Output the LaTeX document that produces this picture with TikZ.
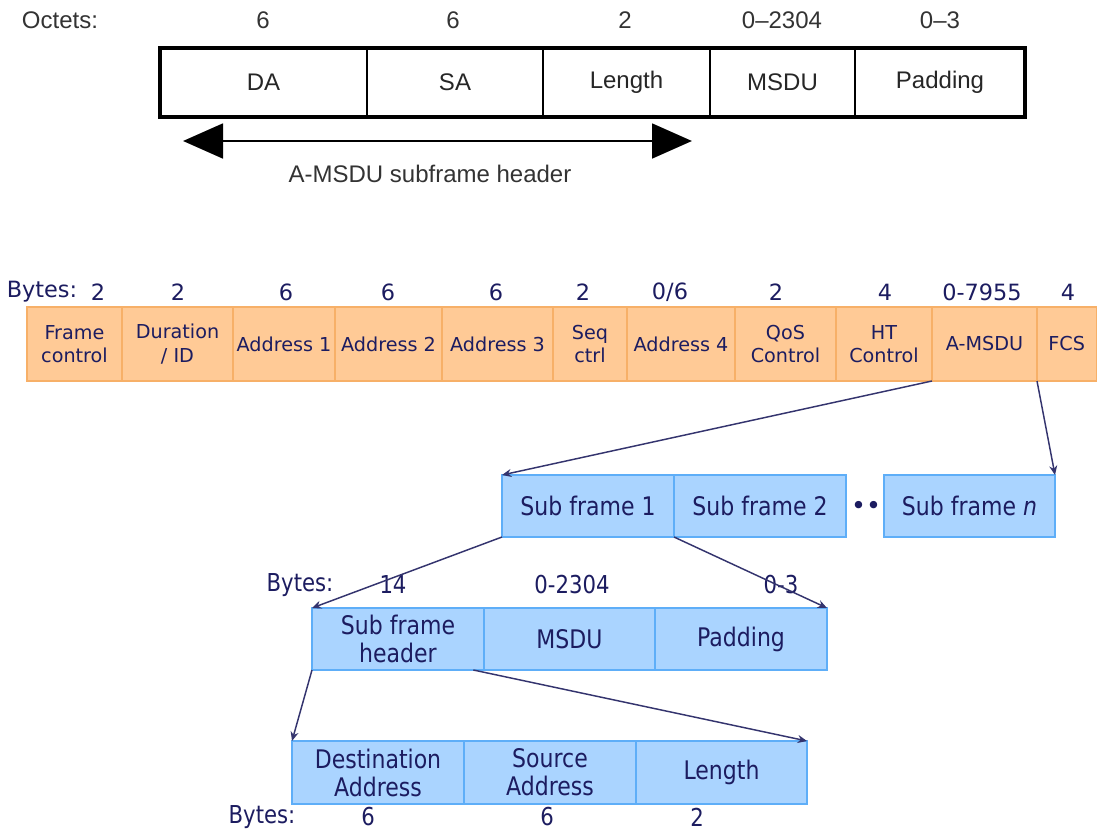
\documentclass[tikz,border=0pt]{standalone}
\usepackage{fontspec}
\usetikzlibrary{arrows.meta}
\newfontfamily\arialn{Liberation Sans}
\newfontfamily\verd{DejaVu Sans}
\newfontfamily\verdc[FakeStretch=0.86]{DejaVu Sans}
\definecolor{orfill}{HTML}{FFCA96}
\definecolor{ordraw}{HTML}{F7B068}
\definecolor{blfill}{HTML}{AAD4FF}
\definecolor{bldraw}{HTML}{5EAEF8}
\definecolor{navy}{HTML}{1C1C60}
\definecolor{lnk}{HTML}{34346E}
\newcommand\mycell[7]{\node[#6, minimum width={(#3-#2)*0.75pt}, minimum height={(#5-#4)*0.75pt}] (#1) at ({(#2+#3)/2},{(#4+#5)/2}) {#7};}
\tikzset{
  topcell/.style={draw=black, line width=1.4pt, inner sep=0pt, outer sep=0pt, font=\arialn\fontsize{18}{21}\selectfont, text=black!85},
  topframe/.style={draw=black, line width=3pt, inner sep=0pt, outer sep=0pt},
  toplbl/.style={inner sep=0pt, font=\arialn\fontsize{18}{21}\selectfont, text=black!80},
  orcell/.style={draw=ordraw, fill=orfill, line width=0.9pt, inner sep=0pt, outer sep=0pt, align=center, text=navy, font=\verd\fontsize{14.4}{17.5}\selectfont},
  orlbl/.style={inner sep=0pt, text=navy, font=\verd\fontsize{16.8}{19}\selectfont},
  blcell/.style={draw=bldraw, fill=blfill, line width=0.9pt, inner sep=0pt, outer sep=0pt, align=center, text=navy, font=\verdc\fontsize{19.2}{21}\selectfont},
  bllbl/.style={inner sep=0pt, text=navy, font=\verdc\fontsize{18.5}{20}\selectfont},
  link/.style={draw=lnk, line width=1.1pt, -{Stealth[length=7pt,width=6pt]}},
}
\begin{document}
\begin{tikzpicture}[x=0.75pt,y=-0.75pt]
\useasboundingbox (0,0) rectangle (1097,832);
% ---------- top: A-MSDU subframe ----------
\mycell{da}{160}{367}{48}{117}{topcell}{DA}
\mycell{sa}{367}{543}{48}{117}{topcell}{SA}
\mycell{len}{543}{710}{48}{117}{topcell}{Length}
\mycell{msdu}{710}{855}{48}{117}{topcell}{MSDU}
\mycell{pad}{855}{1025}{48}{117}{topcell}{Padding}
\mycell{frame}{160}{1025}{48}{117}{topframe}{}
\node[toplbl] (oct) at (60,20) {Octets:};
\node[toplbl] (o1) at (263,20) {6};
\node[toplbl] (o2) at (453,20) {6};
\node[toplbl] (o3) at (625,20) {2};
\node[toplbl] (o4) at (782,20) {0–2304};
\node[toplbl] (o5) at (940,20) {0–3};
\coordinate (hl) at (183,141);
\coordinate (hr) at (692,141);
\draw[line width=2.2pt, {Triangle[length=30pt,width=26pt]}-{Triangle[length=30pt,width=26pt]}] (hl) -- (hr);
\node[toplbl] (hdr) at (430,174) {A-MSDU subframe header};
% ---------- MAC frame ----------
\node[orlbl] (bytes0) at (42,292) {Bytes:};
\node[orlbl] (b1) at (98,292) {2};
\node[orlbl] (b2) at (178,292) {2};
\node[orlbl] (b3) at (286,292) {6};
\node[orlbl] (b4) at (388,292) {6};
\node[orlbl] (b5) at (496,292) {6};
\node[orlbl] (b6) at (583,292) {2};
\node[orlbl] (b7) at (670,292) {0/6};
\node[orlbl] (b8) at (776,292) {2};
\node[orlbl] (b9) at (885,292) {4};
\node[orlbl] (b10) at (982,292) {0-7955};
\node[orlbl] (b11) at (1068,292) {4};
\mycell{fc}{27}{122}{307}{381}{orcell}{Frame\\control}
\mycell{dur}{122}{233}{307}{381}{orcell}{Duration\\/ ID}
\mycell{a1}{233}{335}{307}{381}{orcell}{Address 1}
\mycell{a2}{335}{442}{307}{381}{orcell}{Address 2}
\mycell{a3}{442}{553}{307}{381}{orcell}{Address 3}
\mycell{seq}{553}{627}{307}{381}{orcell}{Seq\\ctrl}
\mycell{a4}{627}{735}{307}{381}{orcell}{Address 4}
\mycell{qos}{735}{836}{307}{381}{orcell}{QoS\\Control}
\mycell{ht}{836}{932}{307}{381}{orcell}{HT\\Control}
\mycell{amsdu}{932}{1037}{307}{381}{orcell}{A-MSDU}
\mycell{fcs}{1037}{1096.5}{307}{381}{orcell}{FCS}
% ---------- subframes ----------
\mycell{sf1}{502}{674}{475}{537}{blcell}{Sub frame 1}
\mycell{sf2}{674}{846}{475}{537}{blcell}{Sub frame 2}
\node[inner sep=0pt, text=navy, font=\verd\fontsize{19}{20}\selectfont] (dots) at (866,508) {••};
\mycell{sfn}{884}{1055}{475}{537}{blcell}{Sub frame \textit{n}}
\draw[link] (amsdu.south west) -- (sf1.north west);
\draw[link] (fcs.south west) -- (sfn.north east);
% ---------- subframe 1 ----------
\node[bllbl] (bytes1) at (300,585) {Bytes:};
\node[bllbl] (c1) at (393,585) {14};
\node[bllbl] (c2) at (572,585) {0-2304};
\node[bllbl] (c3) at (781,585) {0-3};
\mycell{sfh}{312}{484}{608}{670}{blcell}{Sub frame\\header}
\mycell{msdu2}{484}{655}{608}{670}{blcell}{MSDU}
\mycell{pad2}{655}{827}{608}{670}{blcell}{Padding}
\draw[link] (sf1.south west) -- (sfh.north west);
\draw[link] (sf1.south east) -- (pad2.north east);
% ---------- subframe header ----------
\mycell{dst}{292}{464}{741}{804}{blcell}{Destination\\Address}
\mycell{src}{464}{636}{741}{804}{blcell}{Source\\Address}
\mycell{len3}{636}{807}{741}{804}{blcell}{Length}
\draw[link] (sfh.south west) -- (dst.north west);
\draw[link] ([xshift=-8pt]sfh.south east) -- (len3.north east);
\node[bllbl] (bytes2) at (262,817) {Bytes:};
\node[bllbl] (d1) at (368,817) {6};
\node[bllbl] (d2) at (547,817) {6};
\node[bllbl] (d3) at (697,817) {2};
\end{tikzpicture}
\end{document}
